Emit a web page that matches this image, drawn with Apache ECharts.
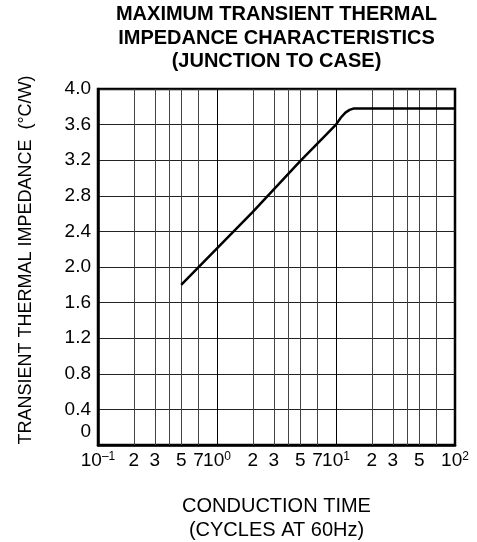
<!DOCTYPE html>
<html><head><meta charset="utf-8">
<script src="https://cdn.jsdelivr.net/npm/echarts@6/dist/echarts.min.js"></script>
<style>html,body{margin:0;padding:0;background:#fff}#c{width:477px;height:542px}</style>
</head><body><div id="c"></div>
<script>
// ---- data ----
const titleLines = ['MAXIMUM TRANSIENT THERMAL', 'IMPEDANCE CHARACTERISTICS', '(JUNCTION TO CASE)'];
const xNameLines = ['CONDUCTION TIME', '(CYCLES AT 60Hz)'];
const yName = 'TRANSIENT THERMAL IMPEDANCE  (\u00B0C/W)';
const xLabelValues = [0.1, 0.2, 0.3, 0.5, 0.7, 1, 2, 3, 5, 7, 10, 20, 30, 50, 70, 100];
const xLabelTexts = ['10^\u20131', '2', '3', '5', '7', '10^0', '2', '3', '5', '7', '10^1', '2', '3', '5', '7', '10^2'];
const xGridValues = [0.1, 0.2, 0.3, 0.4, 0.5, 0.7, 1, 2, 3, 4, 5, 7, 10, 20, 30, 40, 50, 70, 100];
const yTickLabels = ['0', '0.4', '0.8', '1.2', '1.6', '2.0', '2.4', '2.8', '3.2', '3.6', '4.0'];
const timeCycles = [0.5, 1, 2, 5, 10, 11, 12, 13, 14, 100];
const impedance  = [1.80, 2.21, 2.62, 3.19, 3.60, 3.68, 3.735, 3.765, 3.78, 3.78];

// ---- chart ----
const FONT = 'Liberation Sans, Arial, sans-serif';
const chart = echarts.init(document.getElementById('c'), null, {renderer: 'canvas'});
function xLabel(v) {
  let idx = 0, best = Infinity;
  xLabelValues.forEach((t, i) => { const d = Math.abs(Math.log10(t) - Math.log10(v)); if (d < best) { best = d; idx = i; } });
  const s = xLabelTexts[idx];
  if (s.indexOf('^') >= 0) { const p = s.split('^'); return '{b|' + p[0] + '}{s|' + p[1] + '}'; }
  return s;
}
const isDecade = v => Math.abs(Math.log10(v) - Math.round(Math.log10(v))) < 1e-6;
chart.setOption({
  animation: false,
  backgroundColor: '#fff',
  title: {
    text: titleLines.join('\n'),
    left: 276.5, top: 3, padding: 0, textAlign: 'center',
    textStyle: {fontFamily: FONT, fontSize: 20, fontWeight: 'bold', color: '#000', lineHeight: 23.5}
  },
  grid: {left: 98, right: 22, top: 89, bottom: 97, show: true, borderColor: '#000', borderWidth: 2.5,
         backgroundColor: 'transparent', outerBoundsMode: 'none', containLabel: false},
  xAxis: {
    type: 'log', logBase: 10, min: 0.1, max: 100,
    name: xNameLines.join('\n'), nameLocation: 'middle', nameGap: 50, nameMoveOverlap: false,
    nameTextStyle: {fontFamily: FONT, fontSize: 20, color: '#000', lineHeight: 23.5},
    axisLine: {show: true, lineStyle: {color: '#000', width: 2.5}},
    axisTick: {show: false},
    axisLabel: {
      customValues: xLabelValues, margin: 6, color: '#000', fontFamily: FONT, fontSize: 19,
      formatter: xLabel, hideOverlap: false, showMinLabel: true, showMaxLabel: true,
      rich: {b: {fontFamily: FONT, fontSize: 19, color: '#000'},
             s: {fontFamily: FONT, fontSize: 12, color: '#000', verticalAlign: 'top'}}
    },
    splitLine: {show: false},
    minorTick: {show: false}, minorSplitLine: {show: false}
  },
  yAxis: {
    type: 'value', min: 0, max: 4, interval: 0.4,
    name: yName, nameLocation: 'middle', nameRotate: 90, nameGap: 63, nameMoveOverlap: false,
    nameTextStyle: {fontFamily: FONT, fontSize: 18, color: '#000', padding: [0, 0, 0, 14]},
    axisLine: {show: true, lineStyle: {color: '#000', width: 2.5}},
    axisTick: {show: false},
    axisLabel: {
      margin: 7, color: '#000', fontFamily: FONT, fontSize: 19, hideOverlap: false,
      formatter: v => { const i = Math.round(v / 0.4); return i === 0 ? '{z|' + yTickLabels[i] + '}' : yTickLabels[i]; },
      rich: {z: {fontFamily: FONT, fontSize: 19, color: '#000', padding: [0, 0, 26, 0]}}
    },
    splitLine: {show: true, lineStyle: {color: '#222', width: 1}}
  },
  series: [{
    type: 'line',
    data: [],
    z: 1,
    silent: true,
    markLine: {
      silent: true, symbol: 'none', animation: false,
      label: {show: false},
      emphasis: {disabled: true},
      data: xGridValues.map(v => ({xAxis: v, lineStyle: {color: isDecade(v) ? '#000' : '#444', width: 1, type: 'solid'}}))
    }
  }, {
    type: 'line',
    data: timeCycles.map((t, i) => [t, impedance[i]]),
    showSymbol: false, symbol: 'none', smooth: false,
    lineStyle: {color: '#000', width: 2.5},
    z: 5
  }]
});
</script></body></html>
